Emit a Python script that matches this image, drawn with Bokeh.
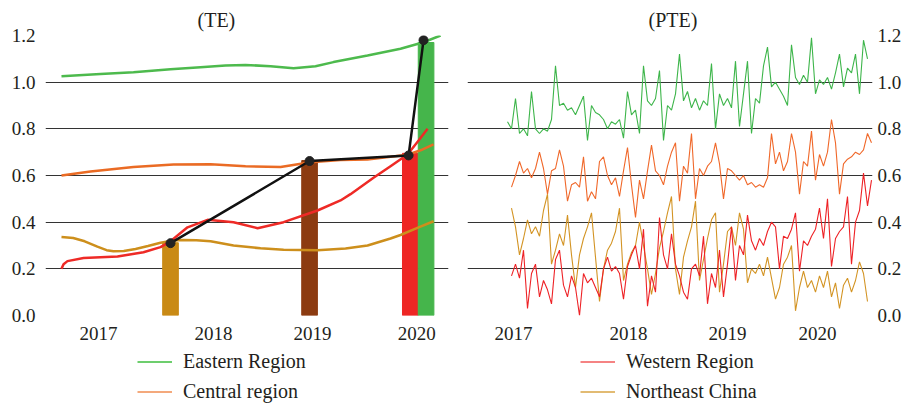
import numpy as np
from bokeh.plotting import figure
from bokeh.layouts import row, column
from bokeh.models import (FixedTicker, PrintfTickFormatter, Legend, LegendItem,
                          Range1d, ColumnDataSource)
from bokeh.embed import file_html
from bokeh.resources import INLINE

nan = float("nan")

# ---------------- data: TE panel ----------------
TE_TICKS = [2017.0, 2018.0, 2018.861, 2019.768]
TE_TICK_LABELS = ["2017", "2018", "2019", "2020"]
Y_TICKS = [0.0, 0.2, 0.4, 0.6, 0.8, 1.0, 1.2]

te_east_x = [2016.678, 2017.017, 2017.304, 2017.626, 2017.887, 2018.104, 2018.278, 2018.496,
             2018.696, 2018.887, 2019.043, 2019.339, 2019.626, 2019.826, 2019.974]
te_east_y = [1.025, 1.035, 1.043, 1.055, 1.064, 1.071, 1.074, 1.068,
             1.060, 1.068, 1.086, 1.114, 1.143, 1.171, 1.200]

te_central_x = [2016.678, 2016.930, 2017.304, 2017.652, 2017.974, 2018.278, 2018.583,
                2018.843, 2019.104, 2019.339, 2019.539, 2019.687, 2019.800, 2019.913]
te_central_y = [0.600, 0.617, 0.636, 0.647, 0.648, 0.640, 0.636,
                0.657, 0.666, 0.669, 0.680, 0.689, 0.708, 0.733]

te_west_x = [2016.678, 2016.696, 2016.730, 2016.870, 2017.165, 2017.391, 2017.539, 2017.626,
             2017.774, 2017.948, 2018.174, 2018.383, 2018.609, 2018.904, 2019.104, 2019.191,
             2019.391, 2019.539, 2019.687, 2019.783, 2019.861]
te_west_y = [0.200, 0.220, 0.233, 0.246, 0.253, 0.271, 0.293, 0.318,
             0.378, 0.410, 0.400, 0.374, 0.400, 0.450, 0.493, 0.520,
             0.590, 0.640, 0.690, 0.750, 0.800]

te_ne_x = [2016.678, 2016.780, 2016.880, 2016.990, 2017.070, 2017.130, 2017.220, 2017.322,
           2017.430, 2017.539, 2017.650, 2017.739, 2017.850, 2017.974, 2018.174, 2018.409,
           2018.609, 2018.904, 2019.148, 2019.339, 2019.539, 2019.626, 2019.757, 2019.913]
te_ne_y = [0.336, 0.332, 0.318, 0.295, 0.280, 0.275, 0.276, 0.285,
           0.298, 0.312, 0.321, 0.324, 0.322, 0.318, 0.300, 0.288,
           0.282, 0.280, 0.287, 0.300, 0.330, 0.345, 0.372, 0.404]

bar_x = [2017.626, 2018.835, 2019.711, 2019.848]
bar_top = [0.312, 0.664, 0.695, 1.170]
bar_colors = ["#C98A15", "#8C3B11", "#EE2624", "#45B54B"]

pts_x = [2017.626, 2018.835, 2019.696, 2019.826]
pts_y = [0.310, 0.662, 0.686, 1.180]

# ---------------- data: PTE panel ----------------
PTE_TICKS = [1.5, 30.25, 55.0, 77.5]
PTE_TICK_LABELS = ["2017", "2018", "2019", "2020"]
pte_t = list(range(92))

pte_east = [0.83, 0.80, 0.93, 0.78, 0.80, 0.77, 0.96, 0.80, 0.78, 0.80,
            0.79, 0.84, 1.07, 0.90, 0.91, 0.88, 0.89, 0.86, 0.90, 0.94,
            0.75, 0.90, 0.87, 0.86, 0.84, 0.80, 0.83, 0.82, 0.84, 0.76,
            0.96, 0.86, 0.88, 0.78, 1.07, 0.92, 0.90, 0.93, 1.05, 0.75,
            0.90, 0.88, 0.95, 1.12, 0.92, 0.96, 0.89, 0.93, 0.88, 0.92,
            0.90, 1.08, 0.80, 0.95, 0.90, 0.93, 0.89, 1.09, 0.81, 0.95,
            1.09, 0.78, 0.93, 0.91, 1.07, 1.15, 0.98, 1.00, 0.97, 0.94,
            0.90, 1.16, 1.02, 0.99, 1.03, 1.00, 1.19, 0.95, 1.01, 0.99,
            1.02, 0.97, 1.04, 1.12, 0.98, 1.06, 1.04, 1.12, 0.95, 1.18,
            1.10, nan]

pte_central = [nan, 0.55, 0.60, 0.66, 0.61, 0.63, 0.59, 0.63, 0.70, 0.63,
               0.52, 0.62, 0.63, 0.71, 0.64, 0.49, 0.56, 0.57, 0.55, 0.68,
               0.49, 0.53, 0.50, 0.66, 0.68, 0.60, 0.56, 0.59, 0.51, 0.62,
               0.72, 0.56, 0.42, 0.58, 0.50, 0.62, 0.73, 0.62, 0.60, 0.56,
               0.64, 0.70, 0.74, 0.49, 0.64, 0.61, 0.78, 0.50, 0.63, 0.60,
               0.64, 0.66, 0.74, 0.65, 0.50, 0.63, 0.62, 0.60, 0.58, 0.60,
               0.56, 0.57, 0.55, 0.56, 0.55, 0.59, 0.78, 0.65, 0.70, 0.62,
               0.66, 0.78, 0.70, 0.52, 0.66, 0.64, 0.79, 0.58, 0.69, 0.64,
               0.70, 0.84, 0.74, 0.52, 0.65, 0.67, 0.68, 0.70, 0.69, 0.71,
               0.78, 0.74]

pte_west = [nan, 0.17, 0.22, 0.16, 0.28, 0.03, 0.18, 0.22, 0.08, 0.15,
            0.11, 0.05, 0.24, 0.28, 0.13, 0.08, 0.17, 0.12, 0.00, 0.18,
            0.14, 0.16, 0.12, 0.08, 0.20, 0.25, 0.19, 0.21, 0.18, 0.07,
            0.21, 0.26, 0.30, 0.20, 0.37, 0.04, 0.17, 0.10, 0.42, 0.26,
            0.20, 0.35, 0.22, 0.17, 0.10, 0.07, 0.20, 0.22, 0.17, 0.34,
            0.05, 0.18, 0.12, 0.28, 0.08, 0.22, 0.38, 0.15, 0.30, 0.26,
            0.43, 0.32, 0.28, 0.33, 0.30, 0.36, 0.40, 0.38, 0.20, 0.34,
            0.33, 0.37, 0.44, 0.19, 0.32, 0.30, 0.34, 0.37, 0.46, 0.33,
            0.50, 0.21, 0.33, 0.36, 0.38, 0.51, 0.22, 0.40, 0.45, 0.61,
            0.47, 0.58]

pte_ne = [nan, 0.46, 0.38, 0.26, 0.33, 0.41, 0.35, 0.38, 0.34, 0.45,
          0.52, 0.22, 0.28, 0.35, 0.30, 0.43, 0.26, 0.12, 0.26, 0.33,
          0.38, 0.44, 0.25, 0.06, 0.20, 0.28, 0.31, 0.36, 0.46, 0.15,
          0.22, 0.27, 0.30, 0.40, 0.30, 0.20, 0.09, 0.18, 0.29, 0.36,
          0.44, 0.51, 0.20, 0.09, 0.25, 0.32, 0.38, 0.49, 0.15, 0.24,
          0.33, 0.41, 0.44, 0.10, 0.22, 0.36, 0.38, 0.30, 0.44, 0.37,
          0.14, 0.20, 0.18, 0.22, 0.17, 0.25, 0.16, 0.07, 0.12, 0.22,
          0.25, 0.30, 0.02, 0.12, 0.19, 0.12, 0.15, 0.10, 0.17, 0.12,
          0.19, 0.08, 0.14, 0.03, 0.13, 0.16, 0.10, 0.15, 0.23, 0.18,
          0.06, nan]

# legend entries
LEG_LEFT = ["Eastern Region", "Central region"]
LEG_RIGHT = ["Western Region", "Northeast China"]

# ---------------- styling ----------------
FONT = "Liberation Serif"
TEXT = "#231F20"
GRID = "#333333"
C_EAST, C_CENT, C_WEST, C_NE = "#4DBA4D", "#EA6B24", "#EE2A26", "#CD8F1C"


def style(p, ticks, labels, title_offset, ystandoff):
    p.outline_line_color = None
    p.xgrid.visible = False
    p.ygrid.grid_line_color = GRID
    p.ygrid.grid_line_width = 1
    p.xaxis.ticker = FixedTicker(ticks=ticks)
    p.xaxis.major_label_overrides = {t: l for t, l in zip(ticks, labels)}
    p.yaxis.ticker = FixedTicker(ticks=Y_TICKS)
    p.yaxis.formatter = PrintfTickFormatter(format="%.1f")
    for ax in (p.xaxis, p.yaxis):
        ax.axis_line_color = None
        ax.major_tick_line_color = None
        ax.minor_tick_line_color = None
        ax.major_tick_out = 0
        ax.major_tick_in = 0
        ax.minor_tick_out = 0
        ax.major_label_text_font = FONT
        ax.major_label_text_font_size = "19px"
        ax.major_label_text_color = TEXT
    p.xaxis.major_label_standoff = 11
    p.yaxis.major_label_standoff = ystandoff
    p.title.text_font = FONT
    p.title.text_font_size = "20px"
    p.title.text_font_style = "normal"
    p.title.text_color = TEXT
    p.title.align = "left"
    p.title.offset = title_offset
    p.title.standoff = 10


def legend_fig(width, labels, colors, vx):
    f = figure(width=width, height=56, min_border=0, x_axis_location=None,
               y_axis_location=None, x_range=Range1d(0, 1), y_range=Range1d(0, 1),
               output_backend="svg", toolbar_location=None)
    f.outline_line_color = None
    f.xgrid.visible = False
    f.ygrid.visible = False
    items = []
    for lab, col in zip(labels, colors):
        # legend proxy: kept outside the visible range, only its swatch is shown
        r = f.line([0, 1], [-5, -5], line_color=col, line_width=1.5)
        items.append(LegendItem(label=lab, renderers=[r]))
    lg = Legend(items=items, location=(vx, 2), orientation="vertical",
                glyph_width=35, glyph_height=23, label_standoff=11, spacing=7,
                padding=0, margin=0, border_line_color=None, background_fill_alpha=0,
                label_text_font=FONT, label_text_font_size="20px", label_text_color=TEXT)
    f.add_layout(lg)
    return f


# ---------------- left: TE ----------------
p1 = figure(frame_width=403, frame_height=280, min_border_left=45, min_border_right=7,
            min_border_top=35, min_border_bottom=34, title="(TE)",
            x_range=Range1d(2016.539, 2020.043), y_range=Range1d(0, 1.2),
            output_backend="svg", toolbar_location=None)
style(p1, TE_TICKS, TE_TICK_LABELS, 152, 10)

bars = ColumnDataSource(dict(x=bar_x, top=bar_top, color=bar_colors))
p1.vbar(x="x", top="top", bottom=0, width=0.136, color="color", source=bars)
p1.line(te_ne_x, te_ne_y, line_color=C_NE, line_width=2.5)
p1.line(te_central_x, te_central_y, line_color=C_CENT, line_width=2.5)
p1.line(te_west_x, te_west_y, line_color=C_WEST, line_width=2.5)
p1.line(te_east_x, te_east_y, line_color=C_EAST, line_width=2.5)
p1.line(pts_x, pts_y, line_color="#111111", line_width=2.5)
p1.scatter(pts_x, pts_y, size=9, color="#222222")

# ---------------- right: PTE ----------------
p2 = figure(frame_width=405, frame_height=280, min_border_left=12, min_border_right=31,
            min_border_top=35, min_border_bottom=34, y_axis_location="right", title="(PTE)",
            x_range=Range1d(-10, 91.25), y_range=Range1d(0, 1.2),
            output_backend="svg", toolbar_location=None)
style(p2, PTE_TICKS, PTE_TICK_LABELS, 181, 5)

t = np.array(pte_t, dtype=float)
p2.line(t, np.array(pte_east), line_color="#3DB54A", line_width=1.1)
p2.line(t, np.array(pte_central), line_color="#F0682A", line_width=1.1)
p2.line(t, np.array(pte_ne), line_color="#D39424", line_width=1.1)
p2.line(t, np.array(pte_west), line_color="#EE2226", line_width=1.1)

# ---------------- legends ----------------
l1 = legend_fig(455, LEG_LEFT, ["#3CBE3C", "#F08C50"], 137)
l2 = legend_fig(448, LEG_RIGHT, ["#F25A5A", "#D9A545"], 125)

layout = column(row(p1, p2), row(l1, l2))
open("out.html", "w").write(file_html(layout, INLINE))
